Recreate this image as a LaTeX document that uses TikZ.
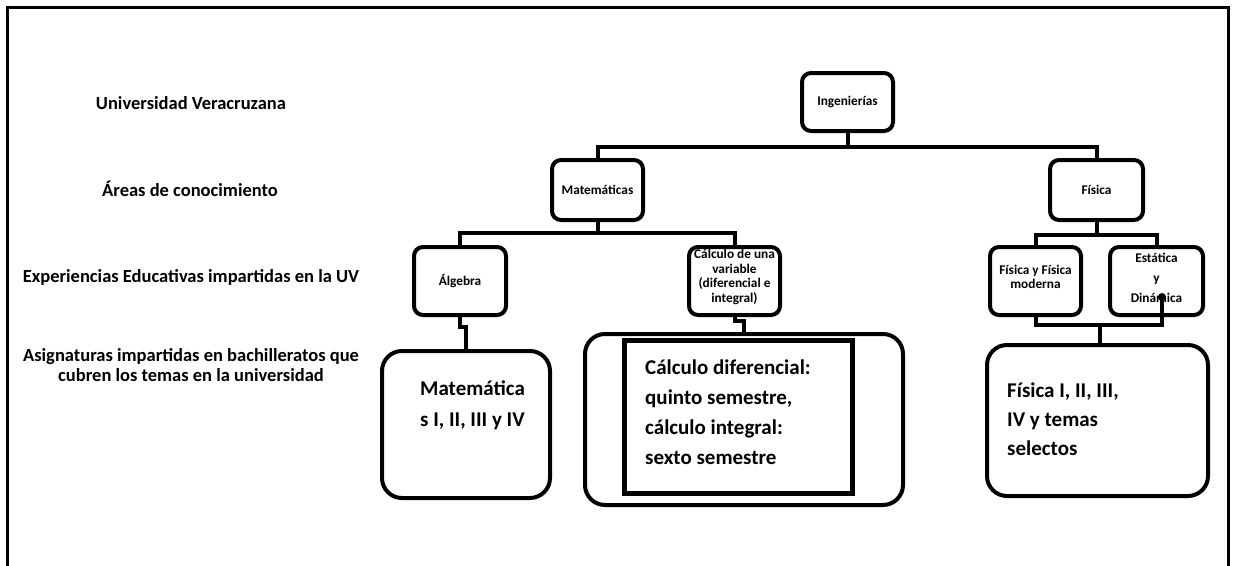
\documentclass[tikz,border=0pt]{standalone}
\usepackage{fontspec}
\setmainfont{Carlito}
\begin{document}
\begin{tikzpicture}[x=1pt,y=-1pt,
  lbl/.style={font=\fontsize{18.5}{20}\selectfont\bfseries, align=center, inner sep=0pt},
  sbox/.style={draw, line width=4pt, rounded corners=9pt, align=center, inner sep=0pt,
    font=\fontsize{13.3}{14.5}\selectfont\bfseries},
  bbox/.style={draw, line width=4pt, rounded corners=20pt, inner sep=0pt},
  btext/.style={font=\fontsize{21}{30}\selectfont\bfseries, align=left, inner sep=0pt, anchor=west},
  conn/.style={line width=4pt}]
\useasboundingbox (0,0) rectangle (1234,565);
% outer frame
\draw[line width=3pt] (7,570) -- (7,7) -- (1228,7) -- (1228,570);
% row labels
\node[lbl] (uv) at (191,103) {Universidad Veracruzana};
\node[lbl] (areas) at (190,189) {Áreas de conocimiento};
\node[lbl] (exp) at (191,277) {Experiencias Educativas impartidas en la UV};
\node[lbl] (asig) at (191,365) {Asignaturas impartidas en bachilleratos que\\cubren los temas en la universidad};
% small boxes
\node[sbox, minimum width=91pt, minimum height=58pt] (ing) at (847.5,102) {Ingenierías};
\node[sbox, minimum width=91pt, minimum height=60pt] (mat) at (597.5,190) {Matemáticas};
\node[sbox, minimum width=93pt, minimum height=60pt] (fis) at (1096.5,190) {Física};
\node[sbox, minimum width=92pt, minimum height=68pt] (alg) at (460,281) {Álgebra};
\node[sbox, minimum width=91pt, minimum height=68pt] (calc) at (734.5,281) {};
\node[font=\fontsize{13.3}{14.5}\selectfont\bfseries, align=center, inner sep=0pt] (calct) at (734.5,277) {Cálculo de una\\variable\\(diferencial e\\integral)};
\node[sbox, minimum width=91pt, minimum height=68pt] (fyfm) at (1035.5,281) {};
\node[font=\fontsize{13.3}{14.5}\selectfont\bfseries, align=center, inner sep=0pt] (fyfmt) at (1035.5,277) {Física y Física\\moderna};
\node[sbox, minimum width=93pt, minimum height=68pt] (est) at (1156.5,281) {};
\node[font=\fontsize{13.3}{20}\selectfont\bfseries, align=center, inner sep=0pt] (estt) at (1156.5,278) {Estática\\y\\Dinámica};
% big boxes
\node[bbox, minimum width=168pt, minimum height=147pt] (matB) at (466,424.5) {};
\node[btext, font=\fontsize{21}{31}\selectfont\bfseries] (matBt) at (420,405.5) {Matemática\\s I, II, III y IV};
\node[bbox, minimum width=318pt, minimum height=171pt] (calcB) at (744,419.5) {};
\node[draw, line width=5pt, minimum width=228pt, minimum height=153pt, inner sep=0pt] (calcI) at (738,416.5) {};
\node[btext] (calcIt) at (645,412) {Cálculo diferencial:\\quinto semestre,\\cálculo integral:\\sexto semestre};
\node[bbox, minimum width=221pt, minimum height=151pt] (fisB) at (1097.5,420.5) {};
\node[btext, font=\fontsize{21}{29}\selectfont\bfseries] (fisBt) at (1007,419) {Física I, II, III,\\IV y temas\\selectos};
% connectors
\coordinate (j1) at (847.5,147);
\draw[conn] (ing.south) -- (j1);
\draw[conn] (mat.north) |- (j1) -| (fis.north);
\coordinate (j2) at (597.5,233);
\draw[conn] (mat.south) -- (j2);
\draw[conn] (alg.north) |- (j2) -| (calc.north);
\coordinate (j3) at (1096.5,235);
\draw[conn] (fis.south) -- (j3);
\draw[conn] (fyfm.north) |- (j3) -| (est.north);
\draw[conn] (alg.south) -- ++(0,10) -| (matB.north);
\draw[conn] (calc.south) -- ++(0,4) -| (calcB.north);
\coordinate (estdot) at (1162,297);
\coordinate (j4) at (1162,325);
\coordinate (j5) at (1100,325);
\draw[conn] (fyfm.south) |- (j4) -- (estdot);
\fill (estdot) circle (4pt);
\draw[conn] (j5) -- (j5 |- fisB.north);
\end{tikzpicture}
\end{document}
